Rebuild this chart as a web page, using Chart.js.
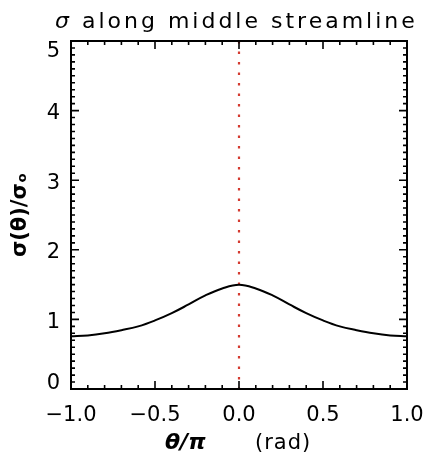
<!DOCTYPE html>
<html>
<head>
<meta charset="utf-8">
<script src="https://cdn.jsdelivr.net/npm/chart.js@4.4.1/dist/chart.umd.min.js"></script>
<style>
  html, body { margin: 0; padding: 0; background: #ffffff; }
  #c { display: block; }
</style>
</head>
<body>
<canvas id="c" width="426" height="458"></canvas>
<script>
// Angle along the streamline, in units of pi
const thetaOverPi = [-1.0, -0.9, -0.8, -0.7, -0.6, -0.5, -0.4, -0.3, -0.2, -0.1, 0.0,
                      0.1,  0.2,  0.3,  0.4,  0.5,  0.6,  0.7,  0.8,  0.9,  1.0];
// Normalised sigma(theta) / sigma_o
const sigmaRatio = [0.757, 0.770, 0.800, 0.845, 0.900, 0.985, 1.090, 1.215, 1.345, 1.445, 1.498,
                    1.445, 1.345, 1.215, 1.090, 0.985, 0.900, 0.845, 0.800, 0.770, 0.757];
// Vertical marker at theta = 0
const markerTheta = [0.0, 0.0];
const markerSigma = [5, 0];

const xTickLabels = ['\u22121.0', '\u22120.5', '0.0', '0.5', '1.0'];
const xTickValues = [-1.0, -0.5, 0.0, 0.5, 1.0];
const yTickLabels = ['0', '1', '2', '3', '4', '5'];
const yTickValues = [0, 1, 2, 3, 4, 5];

const FONT = '"DejaVu Sans", sans-serif';

// IDL-style box: inward ticks on all four sides, y labels kept inside the box, titles
const boxAxes = {
  id: 'boxAxes',
  afterDraw(chart) {
    const { ctx, chartArea: a, scales: { x, y } } = chart;
    ctx.save();
    ctx.strokeStyle = '#000';
    ctx.lineWidth = 1.6;
    ctx.beginPath();
    // x ticks every 0.1, major every 0.5
    for (let i = 0; i <= 20; i++) {
      const v = -1 + i * 0.1;
      const px = x.getPixelForValue(v);
      const len = (i % 5 === 0) ? 8 : 4;
      ctx.moveTo(px, a.bottom); ctx.lineTo(px, a.bottom - len);
      ctx.moveTo(px, a.top); ctx.lineTo(px, a.top + len);
    }
    // y ticks every 0.1, major every 1
    for (let i = 0; i <= 50; i++) {
      const v = i * 0.1;
      const py = y.getPixelForValue(v);
      const len = (i % 10 === 0) ? 8 : 4;
      ctx.moveTo(a.left, py); ctx.lineTo(a.left + len, py);
      ctx.moveTo(a.right, py); ctx.lineTo(a.right - len, py);
    }
    ctx.stroke();
    ctx.lineWidth = 2;
    ctx.strokeRect(a.left, a.top, a.right - a.left, a.bottom - a.top);

    // y tick labels
    ctx.fillStyle = '#000';
    ctx.font = '21px ' + FONT;
    ctx.textAlign = 'right';
    ctx.textBaseline = 'alphabetic';
    yTickValues.forEach((v, i) => {
      let cy = y.getPixelForValue(v) + 1;
      cy = Math.min(Math.max(cy, a.top + 8), a.bottom - 7.5);
      ctx.fillText(yTickLabels[i], a.left - 11, cy + 7.6);
    });

    // x axis title: bold italic theta/pi, then the unit
    ctx.textAlign = 'left';
    ctx.font = 'italic bold 22px ' + FONT;
    ctx.fillText('\u03b8/\u03c0', 165, 449);
    ctx.font = '21px ' + FONT;
    ctx.letterSpacing = '1px';
    ctx.fillText('(rad)', 255, 449);

    // title: italic sigma followed by plain text
    ctx.letterSpacing = '3px';
    let tx = 55;
    const ty = 28;
    ctx.font = 'italic 22px ' + FONT;
    ctx.fillText('\u03c3', tx, ty);
    tx += ctx.measureText('\u03c3').width;
    ctx.font = '22px ' + FONT;
    ctx.fillText(' along middle streamline', tx, ty);
    ctx.restore();
  }
};

new Chart(document.getElementById('c'), {
  type: 'line',
  data: {
    datasets: [
      {
        data: thetaOverPi.map((t, i) => ({ x: t, y: sigmaRatio[i] })),
        borderColor: '#000000',
        borderWidth: 2,
        pointRadius: 0,
        tension: 0.4,
        fill: false
      },
      {
        data: markerTheta.map((t, i) => ({ x: t, y: markerSigma[i] })),
        borderColor: 'rgb(212,58,48)',
        borderWidth: 2.2,
        borderDash: [2.4, 8.1],
        pointRadius: 0,
        fill: false
      }
    ]
  },
  options: {
    responsive: false,
    animation: false,
    devicePixelRatio: 1,
    layout: { padding: { top: 41, right: 19, left: 0, bottom: 0 } },
    plugins: {
      legend: { display: false },
      title: { display: false },
      tooltip: { enabled: false }
    },
    scales: {
      x: {
        type: 'linear',
        min: -1,
        max: 1,
        afterBuildTicks: (s) => { s.ticks = xTickValues.map(v => ({ value: v })); },
        afterFit: (s) => { s.height = 69; s.paddingLeft = 0; s.paddingRight = 0; },
        grid: { display: false, drawTicks: false },
        border: { display: false },
        ticks: {
          padding: 14,
          color: '#000',
          font: { family: FONT, size: 21 },
          autoSkip: false,
          maxRotation: 0,
          callback: (v) => { const k = xTickValues.indexOf(v); return k >= 0 ? xTickLabels[k] : ''; }
        },
        title: { display: false }
      },
      y: {
        type: 'linear',
        min: 0,
        max: 5,
        afterFit: (s) => { s.width = 71; },
        grid: { display: false, drawTicks: false },
        border: { display: false },
        ticks: { display: false },
        title: {
          display: true,
          text: '\u03c3(\u03b8)/\u03c3\u2092',
          color: '#000',
          font: { family: FONT, size: 21, weight: 'bold' },
          padding: { top: 8, bottom: 0 }
        }
      }
    }
  },
  plugins: [boxAxes]
});
</script>
</body>
</html>
